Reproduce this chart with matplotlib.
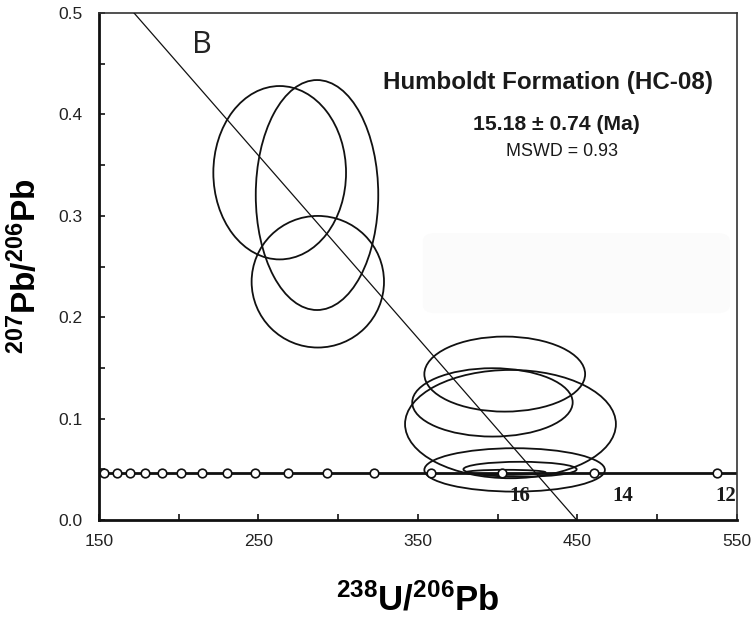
import numpy as np
import matplotlib
matplotlib.use("Agg")
import matplotlib.pyplot as plt
from matplotlib.patches import Ellipse, FancyBboxPatch

plt.rcParams['font.family'] = ['Liberation Sans', 'DejaVu Sans']
plt.rcParams['mathtext.fontset'] = 'custom'
plt.rcParams['mathtext.bf'] = 'Liberation Sans:bold'
plt.rcParams['mathtext.default'] = 'bf'

# concordia ticks, 12-42 Ma every 2 Ma
concordia_x = [153.3, 161.1, 169.6, 178.7, 189.5, 201.4, 214.4, 230.1, 247.8,
               268.7, 293.1, 322.4, 358.0, 402.9, 460.5, 537.3]
concordia_y = [0.0466, 0.0466, 0.0466, 0.0466, 0.0466, 0.0466, 0.0466, 0.0466,
               0.0466, 0.0466, 0.0466, 0.0466, 0.0466, 0.0466, 0.0466, 0.0466]
age_labels = ['16', '14', '12']
age_label_x = [414.0, 478.5, 543.0]
age_label_y = [0.024, 0.024, 0.024]

# discordia (regression through the data)
discordia_x = [172.0, 449.5]
discordia_y = [0.5, 0.0]

# error ellipses: centre, full width, full height
ell_cx = [263.3, 286.7, 287.2, 404.4, 396.7, 408.0, 410.6, 414.0, 405.0]
ell_cy = [0.3425, 0.3205, 0.235, 0.1439, 0.116, 0.0946, 0.0494, 0.050, 0.047]
ell_w = [83.2, 76.8, 83.0, 100.8, 100.6, 132.2, 113.2, 71.0, 50.0]
ell_h = [0.171, 0.2268, 0.1298, 0.074, 0.0674, 0.1068, 0.0428, 0.0148, 0.005]

fig = plt.figure(figsize=(7.55, 6.32), dpi=100)
ax = fig.add_axes([0.1311, 0.1772, 0.845, 0.8022])

# faint leftover box behind the plot
ax.add_patch(FancyBboxPatch((353, 0.204), 192.6, 0.079,
                            boxstyle="round,pad=0,rounding_size=8",
                            mutation_aspect=0.001,
                            facecolor='#fbfbfb', edgecolor='none', zorder=0))

for cx, cy, w, h in zip(ell_cx, ell_cy, ell_w, ell_h):
    ax.add_patch(Ellipse((cx, cy), w, h, facecolor='none',
                         edgecolor='#111111', linewidth=1.3, zorder=3))

ax.axhline(concordia_y[0], color='#111111', linewidth=2, zorder=2)
ax.plot(concordia_x, concordia_y, linestyle='none', marker='o', markersize=6.2,
        markerfacecolor='white', markeredgecolor='#111111', markeredgewidth=1.2,
        zorder=5, clip_on=False)

ax.plot(discordia_x, discordia_y, color='#111111', linewidth=0.9, zorder=4)

for lab, lx, ly in zip(age_labels, age_label_x, age_label_y):
    ax.text(lx, ly, lab, family='Liberation Serif', fontweight='bold',
            fontsize=15, ha='center', va='center', color='#1a1a1a')

ax.text(214.6, 0.468, 'B', fontsize=22, ha='center', va='center',
        family='Open Sans', fontweight='normal', color='#222222')
ax.text(431.5, 0.431, 'Humboldt Formation (HC-08)', fontsize=17.4,
        fontweight='bold', ha='center', va='center', color='#1a1a1a')
ax.text(436.5, 0.390, '15.18 \u00b1 0.74 (Ma)', fontsize=15.2,
        fontweight='bold', ha='center', va='center', color='#1a1a1a')
ax.text(440.3, 0.3636, 'MSWD = 0.93', fontsize=12.9,
        ha='center', va='center', color='#1a1a1a')

ax.set_xlim(150, 550)
ax.set_ylim(0, 0.5)
ax.set_xticks(np.arange(150, 551, 50))
ax.set_xticklabels(['150', '', '250', '', '350', '', '450', '', '550'])
ax.set_yticks(np.arange(0, 0.51, 0.05))
ax.set_yticklabels(['0.0', '', '0.1', '', '0.2', '', '0.3', '', '0.4', '', '0.5'])
ax.tick_params(axis='both', direction='in', length=4, width=1.2,
               labelsize=12.5, labelcolor='#222222', color='#111111')
ax.tick_params(axis='x', pad=10)
ax.tick_params(axis='y', pad=12)

for s in ['left', 'bottom']:
    ax.spines[s].set_linewidth(2)
    ax.spines[s].set_color('#111111')
for s in ['top', 'right']:
    ax.spines[s].set_linewidth(1.2)
    ax.spines[s].set_color('#333333')

ax.set_xlabel(r'$^{238}$U/$^{206}$Pb', fontsize=25, fontweight='bold')
ax.set_ylabel(r'$^{207}$Pb/$^{206}$Pb', fontsize=24, fontweight='bold')
ax.xaxis.set_label_coords(0.5, -0.124)
ax.yaxis.set_label_coords(-0.088, 0.5)

fig.savefig('out.png', dpi=100)
